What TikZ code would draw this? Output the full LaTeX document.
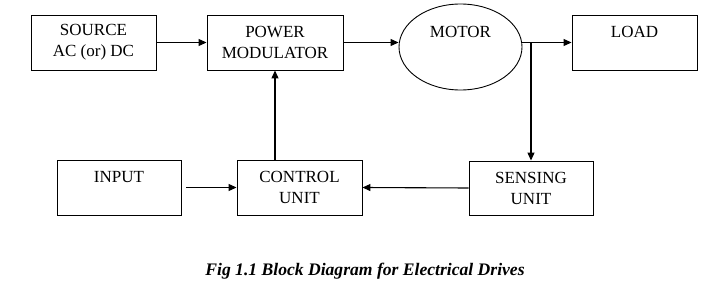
\documentclass[tikz,border=0pt]{standalone}
\usepackage{fontspec}
\setmainfont{Liberation Serif}
\usetikzlibrary{shapes.geometric,arrows.meta}

\tikzset{
  blockbox/.style={draw, line width=0.9pt, minimum width=125pt, minimum height=55pt,
    align=center, font=\fontsize{17}{21}\selectfont, inner sep=0pt},
  flow/.style={->, line width=1.1pt}
}

\begin{document}
\begin{tikzpicture}[>={Triangle[length=8pt,width=7pt]}, x=1pt, y=-1pt]
  % Page frame
  \useasboundingbox (0,0) rectangle (715,294);

  % Top row
  \node[blockbox] (src) at (93.5,42.5) {SOURCE\\AC (or) DC};
  \node[blockbox, minimum width=136pt] (pm) at (275,42.5) {POWER\\MODULATOR};
  \node[blockbox, ellipse, minimum width=123pt, minimum height=86pt] (motor) at (460.5,47)
    {MOTOR\\[9pt]\mbox{}};
  \node[blockbox] (load) at (634.5,42.5) {LOAD\\\mbox{}};

  % Bottom row
  \node[blockbox, minimum width=124pt] (inp) at (119,187.5) {INPUT\\\mbox{}};
  \node[blockbox] (cu) at (299.5,187.5) {CONTROL\\UNIT};
  \node[blockbox, minimum width=124pt, minimum height=54pt] (sen) at (531,188) {SENSING\\UNIT};

  % Connections
  \coordinate (tap) at (sen.north |- load.west);
  \draw[flow] (src) -- (pm);
  \draw[flow] (pm.east) -- (motor.west |- pm.east);
  \draw[flow] (motor.east |- load.west) -- (load.west);
  \draw[flow] (tap) -- (sen.north);
  \draw[flow] (sen.west) -- (cu.east);
  \draw[flow] ([xshift=5pt]inp.east) -- (cu.west);
  \draw[flow] (pm.south |- cu.north) -- (pm.south);

  % Caption
  \node[anchor=base, font=\fontsize{17.6}{21}\selectfont\bfseries\itshape] (cap) at (365,275)
    {Fig 1.1 Block Diagram for Electrical Drives};
\end{tikzpicture}
\end{document}
